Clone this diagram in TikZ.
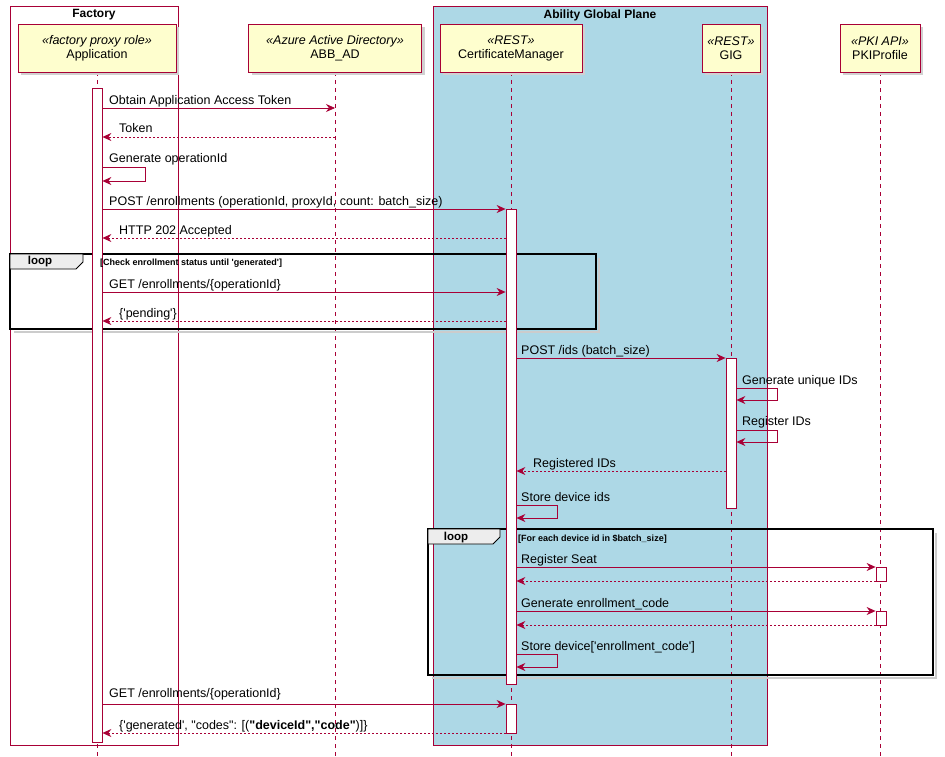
\documentclass[tikz,border=0pt]{standalone}
\usepackage{fontspec}
\setmainfont{Liberation Sans}
\usetikzlibrary{arrows.meta}
\definecolor{pu}{HTML}{A80036}
\definecolor{pfill}{HTML}{FEFECE}
\definecolor{agp}{HTML}{ADD8E6}
\newcommand{\sq}{\textquotesingle}
\newcommand{\dq}{\textquotedbl}
\begin{document}
\begin{tikzpicture}[x=1pt,y=-1pt,
  font=\fontsize{12.5}{14}\selectfont,
  part/.style={draw=pu,fill=pfill,line width=0.8pt,align=center,inner sep=2pt,minimum height=48pt},
  life/.style={draw=pu,dash pattern=on 4pt off 4pt,line width=0.6pt},
  act/.style={draw=pu,fill=white,line width=0.8pt,minimum width=10pt,inner sep=0pt},
  msg/.style={draw=pu,line width=0.7pt,-{Stealth[length=9pt,width=8pt,inset=3pt]}},
  ret/.style={msg,dash pattern=on 2pt off 2pt},
  lbl/.style={anchor=base west,inner sep=0pt},
  box/.style={draw=pu,line width=0.8pt},
  loopf/.style={draw=black,line width=1.6pt},
  sh/.style={draw=black!20,line width=2.5pt},
  tab/.style={draw=black,line width=0.8pt,fill=black!7},
  ttl/.style={font=\bfseries\fontsize{12}{13}\selectfont},
  guard/.style={anchor=base west,inner sep=0pt,font=\bfseries\fontsize{9}{10}\selectfont}]
\useasboundingbox (0,0) rectangle (945,757);
% boxes
\draw[box] (10,6) rectangle (178,745);
\node[ttl] (factory) at (94,15) {Factory};
\draw[box,fill=agp] (433,6) rectangle (767,745);
\node[ttl] (agpl) at (600,15) {Ability Global Plane};
% lifelines
\draw[life] (97,72) -- (97,757);
\draw[life] (335,72) -- (335,757);
\draw[life] (511,72) -- (511,757);
\draw[life] (731,72) -- (731,757);
\draw[life] (880,72) -- (880,757);
% participants
\foreach \x/\w in {97/158,335/173,511/142,731/58,880/80}{
  \fill[black!18] (\x-\w/2+3,27) rectangle (\x+\w/2+3,75);}
\node[part,minimum width=158pt] (app) at (97,48) {\textit{«factory proxy role»}\\Application};
\node[part,minimum width=173pt] (abb) at (335,48) {\textit{«Azure Active Directory»}\\ABB\_AD};
\node[part,minimum width=142pt] (cm) at (511,48) {\textit{«REST»}\\CertificateManager};
\node[part,minimum width=58pt] (gig) at (731,48) {\textit{«REST»}\\GIG};
\node[part,minimum width=80pt] (pki) at (880,48) {\textit{«PKI API»}\\PKIProfile};
% loop frames
\draw[sh] (599,258) -- (599,332) -- (14,332);
\draw[loopf] (10,254) rectangle (596,329);
\draw[tab] (10,254) -- (83,254) -- (83,262) -- (76,269) -- (10,269) -- cycle;
\node[ttl,font=\bfseries\fontsize{11.5}{12}\selectfont] (l1) at (40,262) {loop};
\draw[sh] (936,533) -- (936,678) -- (432,678);
\draw[loopf] (428,529) rectangle (933,675);
\draw[tab] (428,529) -- (500,529) -- (500,537) -- (493,544) -- (428,544) -- cycle;
\node[ttl,font=\bfseries\fontsize{11.5}{12}\selectfont] (l2) at (456,538) {loop};
% activations
\node[act,minimum height=654pt] (aa) at (97,415) {};
\node[act,minimum height=475pt] (ca) at (511,446.5) {};
\node[act,minimum height=29pt] (cb) at (511,718.5) {};
\node[act,minimum height=150pt] (ga) at (731,433) {};
\node[act,minimum height=14pt] (pa) at (881,574) {};
\node[act,minimum height=14pt] (pb) at (881,618) {};
\node[guard] (g1) at (100,265) {[Check enrollment status until \sq generated\sq]};
\node[guard] (g2) at (518,541) {[For each device id in \$batch\_size]};
% messages
\node[lbl] (m1) at (109,105) {Obtain Application Access Token};
\draw[msg] (aa.east|-0,108) -- (abb|-0,108);
\node[lbl] (m2) at (119,133) {Token};
\draw[ret] (abb|-0,137) -- (aa.east|-0,137);
\node[lbl] (m3) at (109,162) {Generate operationId};
\coordinate (s3) at (145,167);
\draw[msg] (aa.east|-0,167) -- (s3) -- (s3|-0,181) -- (aa.east|-0,181);
\node[lbl] (m4) at (109,205) {POST /enrollments (operationId, proxyId, count: batch\_size)};
\draw[msg] (aa.east|-0,209) -- (ca.west|-0,209);
\node[lbl] (m5) at (119,234) {HTTP 202 Accepted};
\draw[ret] (ca.west|-0,238) -- (aa.east|-0,238);
\node[lbl] (m6) at (109,288) {GET /enrollments/\{operationId\}};
\draw[msg] (aa.east|-0,292) -- (ca.west|-0,292);
\node[lbl] (m7) at (119,317) {\{\sq pending\sq\}};
\draw[ret] (ca.west|-0,321) -- (aa.east|-0,321);
\node[lbl] (m8) at (521,354) {POST /ids (batch\_size)};
\draw[msg] (ca.east|-0,358) -- (ga.west|-0,358);
\node[lbl] (m9) at (742,384) {Generate unique IDs};
\coordinate (s9) at (777,388);
\draw[msg] (ga.east|-0,388) -- (s9) -- (s9|-0,400) -- (ga.east|-0,400);
\node[lbl] (m10) at (742,425) {Register IDs};
\coordinate (s10) at (777,430);
\draw[msg] (ga.east|-0,430) -- (s10) -- (s10|-0,442) -- (ga.east|-0,442);
\node[lbl] (m11) at (533,467) {Registered IDs};
\draw[ret] (ga.west|-0,471) -- (ca.east|-0,471);
\node[lbl] (m12) at (521,501) {Store device ids};
\coordinate (s12) at (557,505);
\draw[msg] (ca.east|-0,505) -- (s12) -- (s12|-0,518) -- (ca.east|-0,518);
\node[lbl] (m13) at (521,563) {Register Seat};
\draw[msg] (ca.east|-0,567) -- (pa.west|-0,567);
\draw[ret] (pa.west|-0,581) -- (ca.east|-0,581);
\node[lbl] (m15) at (521,607) {Generate enrollment\_code};
\draw[msg] (ca.east|-0,611) -- (pb.west|-0,611);
\draw[ret] (pb.west|-0,625) -- (ca.east|-0,625);
\node[lbl] (m17) at (521,650) {Store device[\sq enrollment\_code\sq]};
\coordinate (s17) at (557,654);
\draw[msg] (ca.east|-0,654) -- (s17) -- (s17|-0,667) -- (ca.east|-0,667);
\node[lbl] (m18) at (109,697) {GET /enrollments/\{operationId\}};
\draw[msg] (aa.east|-0,704) -- (cb.west|-0,704);
\node[lbl] (m19) at (119,729) {\{\sq generated\sq, \dq codes\dq: [(\textbf{\dq deviceId\dq,\dq code\dq})]\}};
\draw[ret] (cb.west|-0,733) -- (aa.east|-0,733);
\end{tikzpicture}
\end{document}
